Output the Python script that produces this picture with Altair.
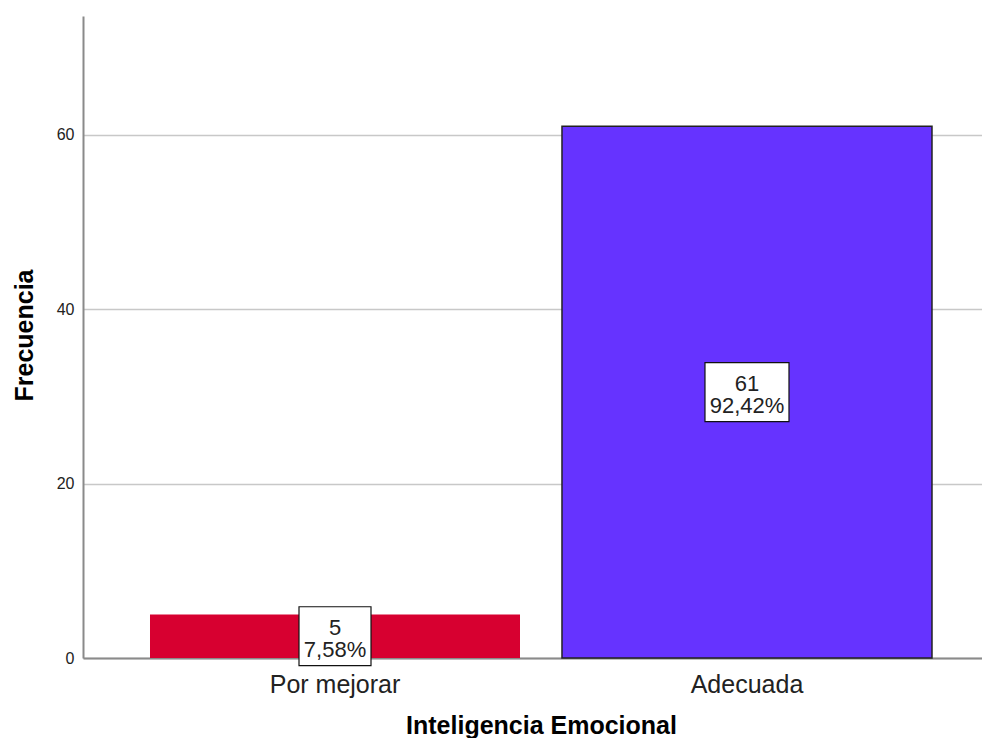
import altair as alt
import pandas as pd

categories = ["Por mejorar", "Adecuada"]
counts = [5, 61]
bar_colors = ["#D70030", "#6633FF"]
y_ticks = [0, 20, 40, 60]

total = sum(counts)
pcts = [f"{c / total * 100:.2f}".replace(".", ",") + "%" for c in counts]
df = pd.DataFrame({"cat": categories, "n": counts, "pct": pcts, "color": bar_colors})
df["label"] = df["n"].astype(str) + "\n" + df["pct"]

W, H = 899, 642
YMAX = 73.65
FONT = "Liberation Sans"

x_scale = alt.Scale(paddingInner=0.1019, paddingOuter=0.1420, align=0.5726)
x_axis = alt.Axis(
    labelAngle=0, labelFontSize=25, labelColor="#222", labelFont=FONT,
    labelPadding=14, ticks=False, domainColor="#8a8a8a", domainWidth=2,
    titleFontSize=25, titleFontWeight="bold", titleColor="#000", titleFont=FONT,
    titleX=458, titleY=75, titleBaseline="alphabetic",
)
y_scale = alt.Scale(domain=[0, YMAX], nice=False, zero=True)
y_axis = alt.Axis(
    values=y_ticks, grid=True, gridColor="#c8c8c8", gridWidth=1.5,
    ticks=False, domainColor="#8a8a8a", domainWidth=2,
    labelFontSize=16, labelColor="#222", labelFont=FONT, labelPadding=9,
    titleFontSize=25, titleFontWeight="bold", titleColor="#000", titleFont=FONT,
    titleAngle=270, titleX=-51, titleY=319, titleBaseline="alphabetic",
)

XT = "Inteligencia Emocional"
YT = "Frecuencia"

bars = alt.Chart(df).mark_bar(stroke="#222", strokeWidth=1.5).encode(
    x=alt.X("cat:N", sort=categories, title=XT, scale=x_scale, axis=x_axis),
    y=alt.Y("n:Q", scale=y_scale, title=YT, axis=y_axis),
    color=alt.Color("color:N", scale=None),
    strokeOpacity=alt.condition(alt.datum.cat == "Adecuada", alt.value(1), alt.value(0)),
)

boxes = alt.Chart(df).transform_calculate(
    lo="datum.n / 2 - 3.38",
    hi="datum.n / 2 + 3.38",
    bw="12 * length(datum.pct) + 12",
).mark_bar(fill="white", stroke="#111", strokeWidth=1.2).encode(
    x=alt.X("cat:N", sort=categories, title=XT, scale=x_scale, axis=x_axis),
    y=alt.Y("lo:Q", scale=y_scale, title=YT, axis=y_axis),
    y2="hi:Q",
    size=alt.Size("bw:Q", scale=None),
)

texts = alt.Chart(df).transform_calculate(
    mid="datum.n / 2"
).mark_text(
    lineBreak="\n", fontSize=22, font=FONT, color="#222", baseline="middle",
    lineHeight=22, dy=-8,
).encode(
    x=alt.X("cat:N", sort=categories, title=XT, scale=x_scale, axis=x_axis),
    y=alt.Y("mid:Q", scale=y_scale, title=YT, axis=y_axis),
    text="label:N",
)

chart = alt.layer(bars, boxes, texts).properties(
    width=W,
    height=H,
    padding={"left": 75, "top": 8, "right": 0, "bottom": 80},
    autosize=alt.AutoSizeParams(type="none"),
).configure_view(stroke=None)

chart.save("out.html", embed_options={"renderer": "svg", "actions": False})
